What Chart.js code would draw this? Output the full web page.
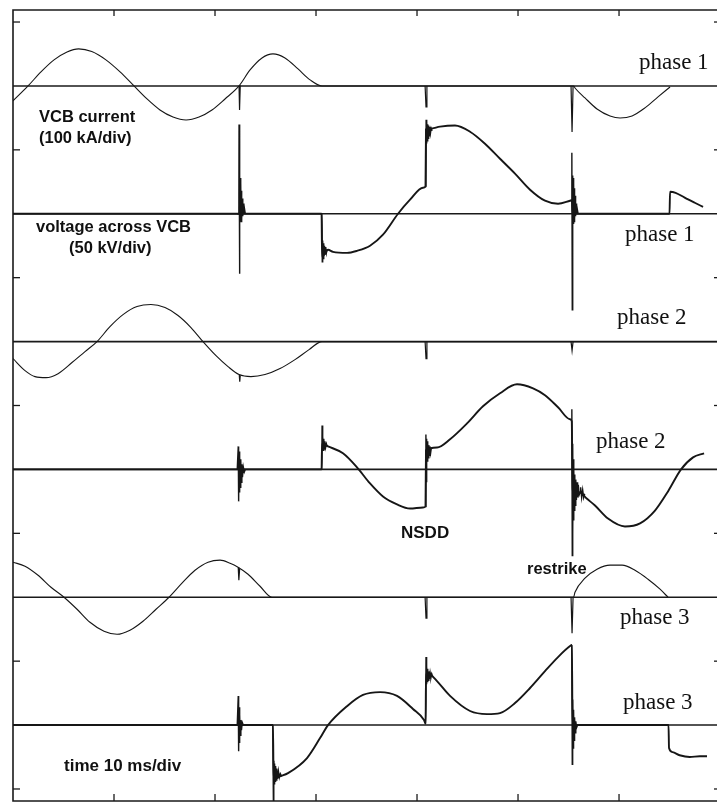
<!DOCTYPE html>
<html>
<head>
<meta charset="utf-8">
<title>VCB switching transients</title>
<script src="https://cdn.jsdelivr.net/npm/chart.js@4.4.1/dist/chart.umd.min.js"></script>
<style>
  html, body { margin: 0; padding: 0; background: #fff; }
  #wrap { width: 717px; height: 802px; }
</style>
</head>
<body>
<div id="wrap"><canvas id="scope" width="717" height="802"></canvas></div>
<script>
// time axis in ms (10 ms/div), vertical axis in divisions
const timeTicks = [10, 20, 30, 40, 50, 60];
const divTicks = [0, 1, 2, 3, 4, 5, 6];

// currents in kA: [ms, kA]
const phase1Current = [
  [0, -11.7], [1.49, 0], [2.77, 11.0], [4.06, 20.4], [5.35, 26.6], [6.5, 29.0], [7.8, 26.9],
  [9.2, 20.4], [10.6, 11.0], [11.98, 0], [13.27, -10.2], [14.55, -18.8], [15.84, -24.3],
  [17.13, -26.6], [18.42, -24.3], [19.70, -18.8], [20.99, -10.2], [22.38, 0], [23.47, 12.5],
  [24.65, 21.9], [25.74, 25.1], [26.93, 21.9], [28.22, 13.3], [29.41, 4.7], [30.59, 0],
  [55.5, 0], [55.64, -1.6], [56.63, -9.4], [57.82, -18.0], [59.11, -23.5], [60.10, -25.1],
  [61.29, -23.5], [62.57, -17.2], [63.86, -8.6], [65.05, -0.8]
];
const phase1CurrentSpikes = [
  [22.38, 0], [22.43, -18.8], [22.5, 0.5], [22.6, null],
  [40.8, 0], [40.89, -16.4], [40.98, 0], [41.1, null],
  [55.25, 0], [55.35, -36], [55.45, 0]
];
const phase2Current = [
  [0, -13.3], [1.19, -22.7], [2.18, -27.4], [3.27, -28.2], [4.46, -25.1], [5.84, -16.4],
  [7.13, -7.8], [8.32, 0], [9.60, 11.7], [10.89, 21.1], [12.28, 27.4], [13.66, 29.0],
  [15.05, 26.6], [16.34, 20.4], [17.62, 11.0], [18.81, 0], [20.10, -11.0], [21.29, -19.6],
  [22.38, -25.8], [23.56, -27.4], [24.95, -25.8], [26.44, -21.1], [27.92, -14.1],
  [29.31, -6.3], [30.59, 0], [69.7, 0]
];
const phase2CurrentSpikes = [
  [22.4, -26], [22.45, -31.3], [22.5, -26.4], [22.6, null],
  [40.8, 0], [40.89, -13.3], [40.98, 0], [41.1, null],
  [55.25, 0], [55.35, -7.0], [55.45, 0]
];
const phase3Current = [
  [0, 27.4], [1.19, 24.3], [2.48, 17.2], [3.76, 7.8], [5.05, 0], [6.34, -9.4], [7.62, -19.6],
  [9.01, -26.6], [10.30, -29.0], [11.58, -25.8], [12.87, -18.8], [14.16, -9.4], [15.45, 0],
  [16.73, 11.0], [18.02, 21.1], [19.31, 27.4], [20.50, 29.0], [21.49, 26.6], [22.28, 23.5],
  [23.27, 18.0], [24.46, 8.6], [25.64, 0], [55.5, 0], [55.64, 3.9], [56.63, 14.9],
  [57.82, 21.9], [59.11, 25.1], [60.30, 25.1], [61.58, 21.1], [62.87, 14.1], [64.06, 6.3],
  [64.85, 0]
];
const phase3CurrentSpikes = [
  [22.3, 23.3], [22.36, 13.3], [22.44, 22.3], [22.5, null],
  [40.8, 0], [40.89, -16.4], [40.98, 0], [41.1, null],
  [55.25, 0], [55.35, -28.2], [55.45, 0]
];

// voltages across the VCB in kV: [ms, kV]
const phase1Voltage = [
  [0, 0], [30.55, 0], [30.6, -16.8], [31.19, -14.1], [31.68, -14.9], [33.07, -15.3],
  [34.06, -14.5], [35.35, -12.5], [36.63, -8.2], [38.12, 0], [39.31, 5.5], [40.59, 10.2],
  [40.84, 10.6], [40.89, 33], [41.3, 33.3], [42.28, 34.1], [43.76, 34.5], [45.25, 32.1],
  [46.73, 27.4], [48.22, 21.5], [49.70, 15.7], [51.19, 9.4], [52.67, 5.1], [53.96, 3.9],
  [55.15, 5.1], [55.33, 5.3], [55.4, 0], [65.0, 0], [65.05, 8.6], [65.6, 8.2], [66.5, 6.3],
  [67.5, 4.3], [68.32, 2.7]
];
const phase1VoltageSpikes = [
  [22.2, 0], [22.36, 0], [22.38, 34.9], [22.41, -23.5], [22.44, 15], [22.47, -4], [22.5, 14],
  [22.53, -3], [22.56, 12], [22.59, -3], [22.62, 9], [22.66, -2], [22.7, 6], [22.75, -1],
  [22.8, 4], [22.86, 0], [22.92, 2], [23.0, 0], [23.1, null],
  [30.58, 0], [30.62, -18.8], [30.66, -10.5], [30.7, -17.5], [30.74, -11.5], [30.79, -16.5],
  [30.84, -12.5], [30.9, -15.8], [30.96, -13], [31.03, -15.3], [31.1, -13.8], [31.2, null],
  [40.88, 10.6], [40.9, 36.8], [40.94, 27.5], [40.98, 36], [41.02, 28.5], [41.06, 35],
  [41.1, 29.5], [41.15, 34.5], [41.2, 30.5], [41.26, 34], [41.33, 31.5], [41.4, 33.5],
  [41.5, 32.5], [41.6, null],
  [55.3, 5.2], [55.33, 23.9], [55.37, -37.6], [55.4, 15], [55.43, -3], [55.46, 14],
  [55.49, -4], [55.52, 12], [55.55, -3], [55.58, 10], [55.62, -2], [55.66, 7], [55.7, -1],
  [55.75, 4], [55.8, 0], [55.86, 2], [55.95, 0]
];
const phase2Voltage = [
  [0, 0], [30.55, 0], [30.6, 10], [31.19, 9.0], [32.67, 6.3], [34.06, 0.8], [35.35, -5.5],
  [36.63, -10.6], [38.02, -13.7], [39.31, -15.3], [40.59, -14.9], [40.84, -14.5],
  [40.89, 7.5], [41.98, 8.6], [43.27, 11.8], [44.95, 18.0], [46.53, 24.7], [48.22, 29.8],
  [49.90, 33.3], [51.49, 31.7], [52.67, 29.0], [53.96, 24.3], [55.15, 19.6], [55.32, 18.8],
  [55.4, -8], [56.14, -9.0], [56.8, -11.4], [57.62, -14.1], [58.91, -19.2], [60.59, -22.3],
  [62.08, -21.1], [63.56, -16.1], [64.85, -8.6], [66.14, 0], [67.33, 4.7], [68.42, 6.3]
];
const phase2VoltageSpikes = [
  [22.2, 0], [22.3, 9.0], [22.34, -12.5], [22.38, 7], [22.42, -9], [22.46, 5], [22.5, -7],
  [22.55, 4], [22.6, -5], [22.66, 2], [22.72, -3], [22.8, 1], [22.9, -1], [23.0, 0], [23.1, null],
  [30.57, 0], [30.6, 17.2], [30.64, 8], [30.68, 13], [30.72, 7.5], [30.77, 12], [30.82, 8],
  [30.88, 11], [30.95, 8.5], [31.03, 10], [31.1, 9], [31.2, null],
  [40.84, -14.5], [40.88, 13.7], [40.91, -4.7], [40.94, 12], [40.97, 2], [41.0, 11],
  [41.04, 3], [41.08, 10], [41.12, 4.5], [41.17, 9.5], [41.22, 5.5], [41.28, 9], [41.35, 6.5],
  [41.42, 8.5], [41.5, null],
  [55.3, 19], [55.33, 23.5], [55.37, -33.7], [55.4, 10], [55.43, -25], [55.46, 4], [55.5, -20],
  [55.54, 0], [55.58, -16], [55.62, -2], [55.67, -14], [55.72, -4], [55.78, -12], [55.84, -5],
  [55.9, -11], [55.97, -6], [56.05, -10], [56.14, -9], [56.2, -7], [56.3, -11], [56.4, -8],
  [56.5, -11], [56.6, -9.5]
];
const phase3Voltage = [
  [0, 0], [25.74, 0], [25.8, -21], [26.5, -20], [27.23, -18.8], [29.11, -12.9], [30.40, -5.1],
  [31.19, 0], [33.07, 7.4], [34.65, 11.8], [36.34, 12.9], [38.02, 11.4], [39.60, 6.3],
  [40.69, 2.0], [40.85, 0.5], [40.89, 20], [41.4, 19.5], [41.98, 17.2], [43.27, 11.4],
  [45.25, 5.5], [46.93, 4.3], [48.22, 4.7], [49.70, 8.6], [51.19, 14.5], [52.67, 21.1],
  [53.96, 26.6], [55.15, 30.9], [55.33, 31.3], [55.4, 0], [64.9, 0], [64.95, -9.0],
  [65.3, -10.6], [66.0, -11.8], [67.0, -12.5], [68.0, -12.2], [68.71, -12.2]
];
const phase3VoltageSpikes = [
  [22.2, 0], [22.3, 11.4], [22.34, -10.2], [22.38, 7], [22.42, -7], [22.46, 4], [22.5, -4],
  [22.56, 2], [22.62, -2], [22.7, 1], [22.8, 0], [22.9, null],
  [25.72, 0], [25.78, -29.8], [25.82, -14], [25.86, -23], [25.9, -15], [25.95, -22], [26.0, -16],
  [26.06, -21.5], [26.12, -17], [26.2, -21], [26.28, -18], [26.37, -20.5], [26.47, -19],
  [26.6, -20], [26.7, null],
  [40.85, 0.5], [40.89, 26.6], [40.93, 16], [40.97, 23], [41.01, 17], [41.06, 22], [41.11, 17.5],
  [41.17, 21], [41.23, 18], [41.3, 20.5], [41.38, 18.5], [41.46, 20], [41.55, 19], [41.6, null],
  [55.3, 31.2], [55.33, 31.3], [55.37, -15.3], [55.41, 10], [55.45, -9], [55.5, 6], [55.55, -6],
  [55.6, 3], [55.66, -3], [55.72, 1.5], [55.8, -1], [55.9, 0]
];

// each trace sits on its own zero line (in divisions)
const traces = [
  { wave: phase1Current, spikes: phase1CurrentSpikes, zero: 5.5, perDiv: 100, width: 1.1 },
  { wave: phase1Voltage, spikes: phase1VoltageSpikes, zero: 4.5, perDiv: 50, width: 1.9 },
  { wave: phase2Current, spikes: phase2CurrentSpikes, zero: 3.5, perDiv: 100, width: 1.1 },
  { wave: phase2Voltage, spikes: phase2VoltageSpikes, zero: 2.5, perDiv: 50, width: 1.9 },
  { wave: phase3Current, spikes: phase3CurrentSpikes, zero: 1.5, perDiv: 100, width: 1.1 },
  { wave: phase3Voltage, spikes: phase3VoltageSpikes, zero: 0.5, perDiv: 50, width: 1.9 }
];

const sans = 'bold 16.5px "Liberation Sans", Arial, sans-serif';
const sansBig = 'bold 17px "Liberation Sans", Arial, sans-serif';
const serif = '23px "Liberation Serif", "Times New Roman", serif';
const notes = [
  { text: 'phase 1', x: 639, y: 68.5, font: serif },
  { text: 'phase 1', x: 625, y: 240.5, font: serif },
  { text: 'phase 2', x: 617, y: 323.5, font: serif },
  { text: 'phase 2', x: 596, y: 447.5, font: serif },
  { text: 'phase 3', x: 620, y: 623.5, font: serif },
  { text: 'phase 3', x: 623, y: 708.5, font: serif },
  { text: 'VCB current', x: 39, y: 122, font: sans },
  { text: '(100 kA/div)', x: 39, y: 143, font: sans },
  { text: 'voltage across VCB', x: 36, y: 232, font: sans },
  { text: '(50 kV/div)', x: 69, y: 253, font: sans },
  { text: 'NSDD', x: 401, y: 538, font: sansBig },
  { text: 'restrike', x: 527, y: 574, font: sans },
  { text: 'time 10 ms/div', x: 64, y: 771, font: sansBig }
];

function line(ctx, x1, y1, x2, y2) {
  ctx.beginPath();
  ctx.moveTo(x1, y1);
  ctx.lineTo(x2, y2);
  ctx.stroke();
}

const scopeFrame = {
  id: 'scopeFrame',
  beforeDatasetsDraw(chart) {
    const { ctx, chartArea: a, scales: { x, y } } = chart;
    ctx.save();
    ctx.strokeStyle = '#1a1a1a';
    ctx.lineWidth = 1.6;
    traces.forEach(tr => {
      const py = y.getPixelForValue(tr.zero);
      line(ctx, a.left, py, a.right, py);
    });
    ctx.beginPath();
    ctx.moveTo(a.right, a.top);
    ctx.lineTo(a.left, a.top);
    ctx.lineTo(a.left, a.bottom);
    ctx.lineTo(a.right, a.bottom);
    ctx.stroke();
    ctx.lineWidth = 1.3;
    timeTicks.forEach(t => {
      const px = x.getPixelForValue(t);
      line(ctx, px, a.top, px, a.top + 6);
      line(ctx, px, a.bottom, px, a.bottom - 7);
    });
    divTicks.forEach(d => {
      const py = y.getPixelForValue(d);
      line(ctx, a.left, py, a.left + 7, py);
      line(ctx, a.right, py, a.right - 3, py);
    });
    ctx.restore();
  },
  afterDatasetsDraw(chart) {
    const { ctx } = chart;
    ctx.save();
    ctx.fillStyle = '#111';
    ctx.textBaseline = 'alphabetic';
    notes.forEach(n => {
      ctx.font = n.font;
      ctx.fillText(n.text, n.x, n.y);
    });
    ctx.restore();
  }
};

function toPoints(pairs, tr) {
  return pairs.map(([t, v]) => ({ x: t, y: v === null ? null : tr.zero + v / tr.perDiv }));
}

window.addEventListener('load', () => {
  const ctx = document.getElementById('scope').getContext('2d');
  const datasets = [];
  traces.forEach(tr => {
    datasets.push({
      data: toPoints(tr.wave, tr),
      borderColor: '#161616',
      borderWidth: tr.width,
      pointRadius: 0,
      fill: false,
      cubicInterpolationMode: 'monotone'
    });
    datasets.push({
      data: toPoints(tr.spikes, tr),
      borderColor: '#161616',
      borderWidth: tr.perDiv === 100 ? 1.2 : 1.4,
      pointRadius: 0,
      fill: false,
      tension: 0,
      spanGaps: false
    });
  });

  new Chart(ctx, {
    type: 'line',
    data: { datasets },
    options: {
      responsive: false,
      animation: false,
      devicePixelRatio: 1,
      layout: { padding: { left: 13, top: 10, right: 0, bottom: 1 } },
      plugins: {
        legend: { display: false },
        tooltip: { enabled: false }
      },
      scales: {
        x: { type: 'linear', min: 0, max: 69.7, display: false },
        y: { type: 'linear', min: -0.094, max: 6.094, display: false }
      }
    },
    plugins: [scopeFrame]
  });
});
</script>
</body>
</html>
